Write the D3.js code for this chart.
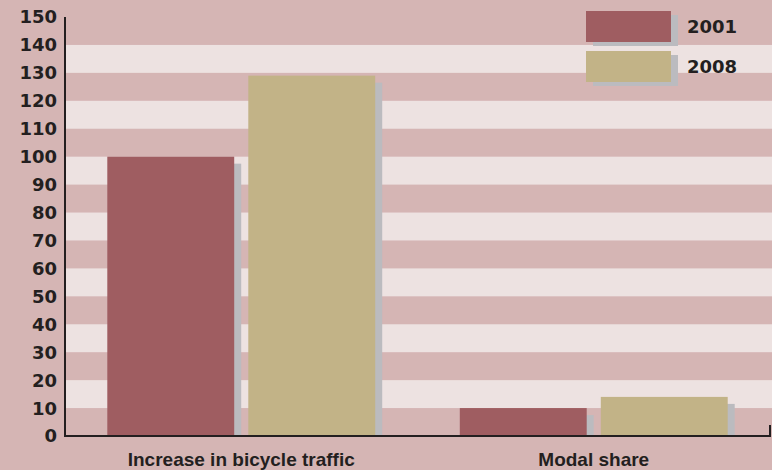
<!DOCTYPE html>
<html><head><meta charset="utf-8">
<script src="https://cdn.jsdelivr.net/npm/d3@7"></script>
<style>
html,body{margin:0;padding:0;background:#D5B5B4;}
svg{display:block;}
text{font-family:"DejaVu Sans",sans-serif;fill:#231F20;}
</style></head>
<body>
<svg id="chart" width="772" height="470"></svg>
<script>
const categories = ["Increase in bicycle traffic", "Modal share"];
const seriesNames = ["2001", "2008"];
const values2001 = [100, 10];
const values2008 = [129, 14];
const yTicks = [0,10,20,30,40,50,60,70,80,90,100,110,120,130,140,150];

const colors = {"2001":"#9F5D61","2008":"#C2B387"};
const W = 772, H = 470;
const m = {left:65, right:2, top:17, bottom:34};
const svg = d3.select("#chart");

const y = d3.scaleLinear().domain([0,150]).range([H-m.bottom, m.top]);
const x0 = d3.scaleBand().domain(categories).range([m.left, W-m.right]).paddingInner(0.24).paddingOuter(0.12);
const x1 = d3.scaleBand().domain(seriesNames).range([0, x0.bandwidth()]).paddingInner(0.1);

// background bands
const bandData = d3.range(10, 150, 20);
svg.append("g").selectAll("rect").data(bandData).join("rect")
  .attr("x", m.left+1).attr("width", W-m.left)
  .attr("y", d=>y(d+10)).attr("height", d=>y(d)-y(d+10))
  .attr("fill","#EDE2E1");

const data = categories.map((c,i)=>({cat:c, vals:[{s:"2001",v:values2001[i]},{s:"2008",v:values2008[i]}]}));

const groups = svg.append("g").selectAll("g").data(data).join("g")
  .attr("transform", d=>`translate(${x0(d.cat)},0)`);
// shadows
groups.selectAll("rect.sh").data(d=>d.vals).join("rect").attr("class","sh")
  .attr("x", d=>x1(d.s)+7).attr("width", x1.bandwidth())
  .attr("y", d=>y(d.v)+7).attr("height", d=>Math.max(0, y(0)-y(d.v)-7))
  .attr("fill","#BBBBBF");
groups.selectAll("rect.bar").data(d=>d.vals).join("rect").attr("class","bar")
  .attr("x", d=>x1(d.s)).attr("width", x1.bandwidth())
  .attr("y", d=>y(d.v)).attr("height", d=>y(0)-y(d.v))
  .attr("fill", d=>colors[d.s]);

// y axis
svg.append("line").attr("x1",m.left).attr("x2",m.left).attr("y1",m.top).attr("y2",y(0)+1)
  .attr("stroke","#231F20").attr("stroke-width",2);
svg.append("g").selectAll("text").data(yTicks).join("text")
  .attr("x", 57).attr("y", d=>y(d)).attr("dy","0.36em")
  .attr("text-anchor","end").attr("font-size","18px").attr("font-weight","bold")
  .text(d=>d);

// x axis
svg.append("path")
  .attr("d", `M${m.left},${y(0)} H${W-2} V${y(0)-11}`)
  .attr("fill","none").attr("stroke","#231F20").attr("stroke-width",2);
svg.append("g").selectAll("text").data(categories).join("text")
  .attr("x", d=>x0(d)+x0.bandwidth()/2).attr("y", 466)
  .attr("text-anchor","middle").attr("font-size","19px").attr("font-weight","bold")
  .style("font-family","'Liberation Sans',sans-serif")
  .text(d=>d);

// legend
const leg = svg.append("g").selectAll("g").data(seriesNames).join("g")
  .attr("transform",(d,i)=>`translate(586,${11+i*40})`);
leg.append("rect").attr("x",7).attr("y",4).attr("width",85).attr("height",31).attr("fill","#BBBBBF");
leg.append("rect").attr("width",85).attr("height",31).attr("fill",d=>colors[d]);
leg.append("text").attr("x",101).attr("y",16).attr("dy","0.36em")
  .attr("font-size","18px").attr("font-weight","bold").text(d=>d);
</script>
</body></html>
